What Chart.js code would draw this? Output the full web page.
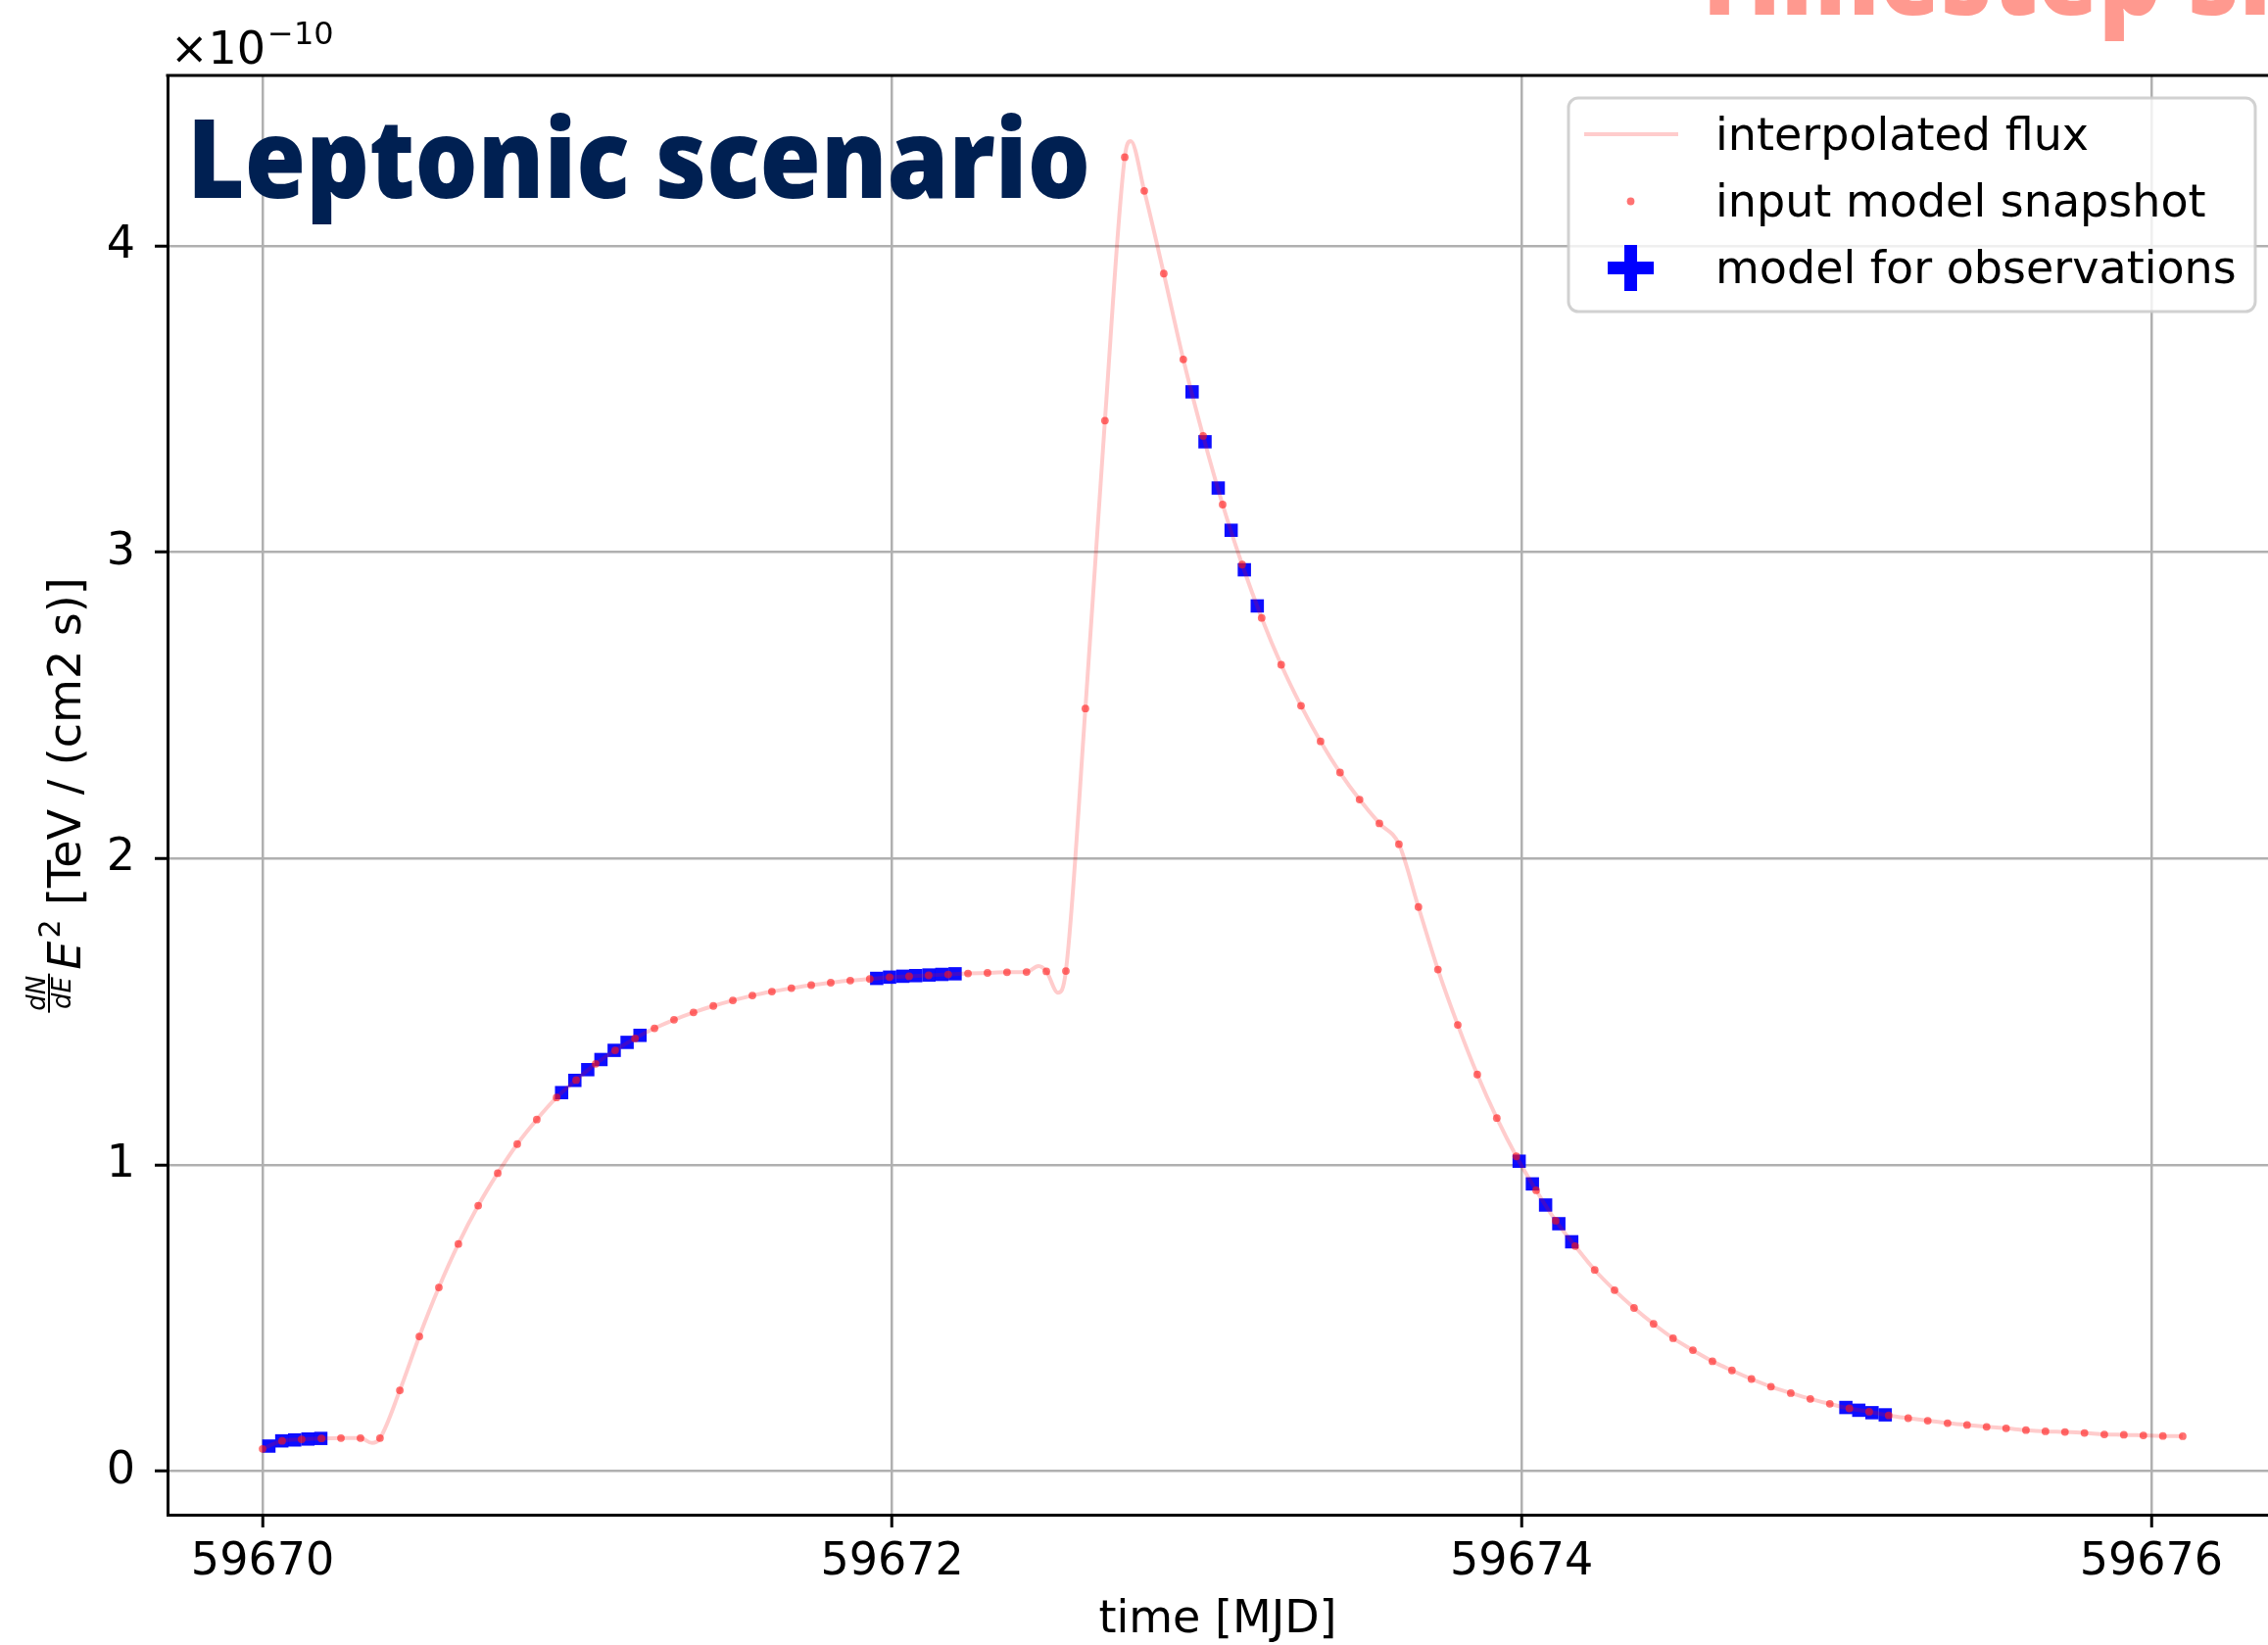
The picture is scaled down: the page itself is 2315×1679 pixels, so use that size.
<!DOCTYPE html>
<html>
<head>
<meta charset="utf-8">
<title>Leptonic scenario</title>
<script src="https://cdn.jsdelivr.net/npm/chart.js@4.4.1/dist/chart.umd.min.js"></script>
<style>
  html, body { margin: 0; padding: 0; background: #fff; overflow: hidden; }
</style>
</head>
<body>
<canvas id="fluxChart" width="2315" height="1679"></canvas>
<script>
// Flux values are in units of 1e-10 TeV / (cm2 s)

// input model snapshots (one every ~1.5 h)
const snapTimes = [
  59670.000, 59670.062, 59670.124, 59670.187, 59670.249, 59670.311, 59670.373, 59670.436, 59670.498, 59670.560,
  59670.622, 59670.685, 59670.747, 59670.809, 59670.871, 59670.934, 59670.996, 59671.058, 59671.120, 59671.183,
  59671.245, 59671.307, 59671.369, 59671.432, 59671.494, 59671.556, 59671.618, 59671.680, 59671.743, 59671.805,
  59671.867, 59671.929, 59671.992, 59672.054, 59672.116, 59672.178, 59672.241, 59672.303, 59672.365, 59672.427,
  59672.490, 59672.552, 59672.614, 59672.676, 59672.739, 59672.801, 59672.863, 59672.925, 59672.988, 59673.050,
  59673.112, 59673.174, 59673.236, 59673.299, 59673.361, 59673.423, 59673.485, 59673.548, 59673.610, 59673.672,
  59673.734, 59673.797, 59673.859, 59673.921, 59673.983, 59674.046, 59674.108, 59674.170, 59674.232, 59674.295,
  59674.357, 59674.419, 59674.481, 59674.544, 59674.606, 59674.668, 59674.730, 59674.792, 59674.855, 59674.917,
  59674.979, 59675.041, 59675.104, 59675.166, 59675.228, 59675.290, 59675.353, 59675.415, 59675.477, 59675.539,
  59675.602, 59675.664, 59675.726, 59675.788, 59675.851, 59675.913, 59675.975, 59676.037, 59676.100
];
const snapFlux = [
  0.073, 0.099, 0.104, 0.107, 0.108, 0.108, 0.108, 0.264, 0.440, 0.600,
  0.742, 0.867, 0.973, 1.068, 1.148, 1.220, 1.277, 1.330, 1.374, 1.413,
  1.446, 1.474, 1.498, 1.519, 1.537, 1.553, 1.566, 1.577, 1.587, 1.595,
  1.602, 1.607, 1.613, 1.616, 1.619, 1.622, 1.625, 1.627, 1.629, 1.630,
  1.632, 1.633, 2.490, 3.430, 4.290, 4.180, 3.910, 3.630, 3.380, 3.156,
  2.960, 2.786, 2.633, 2.499, 2.383, 2.281, 2.193, 2.115, 2.047, 1.842,
  1.638, 1.457, 1.295, 1.153, 1.028, 0.917, 0.818, 0.735, 0.657, 0.591,
  0.533, 0.481, 0.434, 0.395, 0.359, 0.329, 0.301, 0.276, 0.255, 0.236,
  0.220, 0.205, 0.194, 0.182, 0.173, 0.165, 0.157, 0.151, 0.145, 0.140,
  0.134, 0.130, 0.128, 0.125, 0.120, 0.119, 0.117, 0.115, 0.114
];

// turning points of the interpolated curve that fall between snapshots
const splineTimes = [59670.348, 59672.465, 59672.527, 59672.758];
const splineFlux = [0.092, 1.649, 1.562, 4.343];

// model evaluated at the observation times (hourly bins)
const obsTimes = [
  59670.020, 59670.061, 59670.102, 59670.144, 59670.185,
  59670.950, 59670.992, 59671.033, 59671.075, 59671.117, 59671.158, 59671.199,
  59671.951, 59671.992, 59672.034, 59672.075, 59672.117, 59672.158, 59672.200,
  59672.953, 59672.994, 59673.036, 59673.077, 59673.119, 59673.160,
  59673.992, 59674.034, 59674.076, 59674.118, 59674.159,
  59675.030, 59675.071, 59675.113, 59675.155
];
const obsFlux = [
  0.082, 0.099, 0.102, 0.105, 0.107,
  1.236, 1.276, 1.311, 1.344, 1.374, 1.400, 1.423,
  1.609, 1.613, 1.616, 1.618, 1.620, 1.622, 1.624,
  3.524, 3.361, 3.210, 3.072, 2.943, 2.825,
  1.012, 0.938, 0.869, 0.808, 0.749,
  0.208, 0.199, 0.191, 0.184
];

const xTickStep = 2;
const yTickStep = 1;

const FONT = "DejaVu Sans";
const TITLE_FONT = "'Open Sans'";
const X_MIN = 59669.698, X_MAX = 59676.371;
const Y_MIN = -0.142, Y_MAX = 4.557;

function toPoints(xs, ys) {
    return xs.map((x, i) => ({ x: x, y: ys[i] }));
}

function interpolatedPoints() {
    const pts = toPoints(snapTimes, snapFlux).concat(toPoints(splineTimes, splineFlux));
    pts.sort((a, b) => a.x - b.x);
    return pts;
}

// top spine (matplotlib style frame)
const framePlugin = {
    id: "frame",
    afterDraw(chart) {
        const c = chart.ctx;
        const a = chart.chartArea;
        c.save();
        c.strokeStyle = "#000";
        c.lineWidth = 3;
        c.beginPath();
        c.moveTo(a.left - 1.5, a.top);
        c.lineTo(a.right + 10, a.top);
        c.stroke();
        c.restore();
    },
};

// "x10^-10" offset text above the y axis
const offsetPlugin = {
    id: "offsetText",
    afterDraw(chart) {
        const c = chart.ctx;
        c.save();
        c.fillStyle = "#000";
        c.textBaseline = "alphabetic";
        c.font = "46px " + FONT;
        c.fillText("\u00d710", 174, 65);
        const w = c.measureText("\u00d710").width;
        c.font = "32px " + FONT;
        c.fillText("\u221210", 174 + w + 2, 45);
        c.restore();
    },
};

// y axis label with the dN/dE fraction
const yLabelPlugin = {
    id: "yLabel",
    afterDraw(chart) {
        const c = chart.ctx;
        const a = chart.chartArea;
        const fracFont = "italic 26px " + FONT;
        const eFont = "italic 46px " + FONT;
        const supFont = "30px " + FONT;
        const mainFont = "46px " + FONT;
        const unit = " [TeV / (cm2 s)]";
        c.save();
        c.translate(82, (a.top + a.bottom) / 2);
        c.rotate(-Math.PI / 2);
        c.fillStyle = "#000";
        c.textBaseline = "alphabetic";
        c.font = fracFont;
        const fw = Math.max(c.measureText("dN").width, c.measureText("dE").width) + 4;
        c.font = eFont;
        const ew = c.measureText("E").width;
        c.font = supFont;
        const sw = c.measureText("2").width;
        c.font = mainFont;
        const uw = c.measureText(unit).width;
        let x = -(fw + 4 + ew + 3 + sw + uw) / 2;

        c.font = fracFont;
        c.textAlign = "center";
        c.fillText("dN", x + fw / 2, -36);
        c.fillText("dE", x + fw / 2, -10);
        c.fillRect(x, -33, fw, 2);
        x += fw + 4;

        c.textAlign = "left";
        c.font = eFont;
        c.fillText("E", x, 0);
        x += ew + 3;
        c.font = supFont;
        c.fillText("2", x, -21);
        x += sw;
        c.font = mainFont;
        c.fillText(unit, x, 0);
        c.restore();
    },
};

// big overlay titles
const titlePlugin = {
    id: "titles",
    afterDraw(chart) {
        const c = chart.ctx;
        c.save();
        c.font = "800 112px " + TITLE_FONT;
        c.textBaseline = "alphabetic";
        const sx = 922 / c.measureText("Leptonic scenario").width;

        c.save();
        c.translate(191, 202);
        c.scale(sx, 1);
        c.fillStyle = "#002052";
        c.fillText("Leptonic scenario", 0, 0);
        c.restore();

        const tw = c.measureText("T").width * sx;
        c.save();
        c.translate(1755 - tw / 2, 15);
        c.scale(sx, 1);
        c.fillStyle = "#ff998f";
        c.fillText("Timestep size", 0, 0);
        c.restore();
        c.restore();
    },
};

// legend box in the upper right corner
const legendPlugin = {
    id: "boxLegend",
    afterDraw(chart) {
        const c = chart.ctx;
        const ds = chart.data.datasets;
        c.save();
        c.beginPath();
        c.roundRect(1601, 100, 701, 218, 10);
        c.fillStyle = "rgba(255,255,255,0.8)";
        c.fill();
        c.strokeStyle = "rgba(204,204,204,0.9)";
        c.lineWidth = 3;
        c.stroke();

        // interpolated flux
        c.strokeStyle = ds[0].borderColor;
        c.lineWidth = ds[0].borderWidth;
        c.beginPath();
        c.moveTo(1617, 137);
        c.lineTo(1713, 137);
        c.stroke();

        // snapshot dot
        c.fillStyle = ds[1].backgroundColor;
        c.beginPath();
        c.arc(1664.5, 205.5, ds[1].pointRadius, 0, Math.PI * 2);
        c.fill();

        // observation marker (error bar cross)
        c.fillStyle = "#0000ff";
        c.fillRect(1641, 267, 47, 13);
        c.fillRect(1658, 250, 13, 47);

        c.fillStyle = "#000";
        c.font = "46px " + FONT;
        c.textBaseline = "alphabetic";
        c.fillText(ds[0].label, 1751, 153);
        c.fillText(ds[1].label, 1751, 221);
        c.fillText(ds[2].label, 1751, 289);
        c.restore();
    },
};

const canvas = document.getElementById("fluxChart");
const fluxChart = new Chart(canvas.getContext("2d"), {
    type: "scatter",
    data: {
        datasets: [
            {
                label: "interpolated flux",
                data: interpolatedPoints(),
                showLine: true,
                borderColor: "rgba(255,0,0,0.2)",
                borderWidth: 4,
                cubicInterpolationMode: "monotone",
                pointRadius: 0,
                order: 1,
            },
            {
                label: "input model snapshot",
                data: toPoints(snapTimes, snapFlux),
                pointRadius: 3.9,
                pointBorderWidth: 0,
                backgroundColor: "rgba(255,20,20,0.6)",
                order: 0,
            },
            {
                label: "model for observations",
                data: toPoints(obsTimes, obsFlux),
                pointStyle: "rect",
                pointRadius: 9.6,
                pointBorderWidth: 0,
                backgroundColor: "rgba(0,0,255,0.95)",
                order: 2,
            },
        ],
    },
    options: {
        responsive: false,
        maintainAspectRatio: false,
        devicePixelRatio: 1,
        animation: false,
        events: [],
        layout: {
            autoPadding: false,
            padding: { top: 77, left: 0, right: 0, bottom: 0 },
        },
        plugins: {
            legend: { display: false },
            tooltip: { enabled: false },
        },
        scales: {
            x: {
                type: "linear",
                min: X_MIN,
                max: X_MAX,
                ticks: {
                    stepSize: xTickStep,
                    includeBounds: false,
                    autoSkip: false,
                    maxRotation: 0,
                    padding: 8,
                    color: "#000",
                    font: { family: FONT, size: 46 },
                    callback: (v) => String(v),
                },
                grid: {
                    color: "#b0b0b0",
                    lineWidth: 2.5,
                    tickLength: 13,
                    tickColor: "#000",
                    tickWidth: 3,
                },
                border: { display: true, color: "#000", width: 3 },
                title: {
                    display: true,
                    text: "time [MJD]",
                    color: "#000",
                    font: { family: FONT, size: 46, lineHeight: 1 },
                    padding: { top: 0, bottom: 2 },
                },
                afterFit: (s) => {
                    s.height = 133;
                    s.paddingLeft = 0;
                    s.paddingRight = 0;
                },
            },
            y: {
                type: "linear",
                min: Y_MIN,
                max: Y_MAX,
                ticks: {
                    stepSize: yTickStep,
                    includeBounds: false,
                    padding: 20,
                    color: "#000",
                    font: { family: FONT, size: 46 },
                    callback: (v) => String(v),
                },
                grid: {
                    color: "#b0b0b0",
                    lineWidth: 2.5,
                    tickLength: 13,
                    tickColor: "#000",
                    tickWidth: 3,
                },
                border: { display: true, color: "#000", width: 3 },
                afterFit: (s) => {
                    s.width = 171;
                    s.paddingTop = 0;
                    s.paddingBottom = 0;
                },
            },
        },
    },
    plugins: [framePlugin, offsetPlugin, yLabelPlugin, titlePlugin, legendPlugin],
});
</script>
</body>
</html>
